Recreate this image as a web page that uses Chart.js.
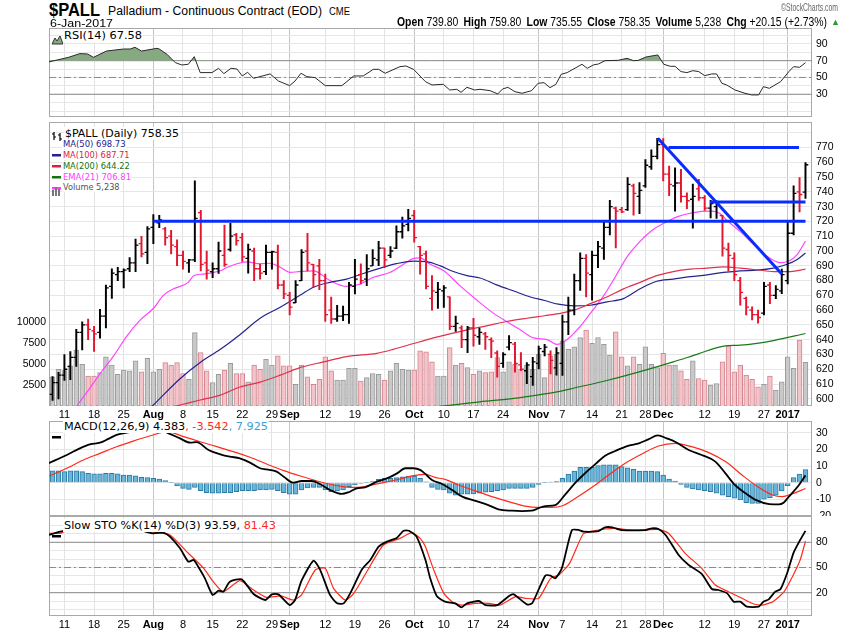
<!DOCTYPE html>
<html>
<head>
<meta charset="utf-8">
<script src="https://cdn.jsdelivr.net/npm/chart.js@4.4.1/dist/chart.umd.min.js"></script>
<style>
  body { margin: 0; background: #fff; }
  #wrap { position: relative; width: 850px; height: 633px; overflow: hidden; background: #fff; }
  canvas { position: absolute; left: 0; }
  .t { position: absolute; white-space: nowrap; transform-origin: 0 50%; }
  .ico { position: absolute; }
</style>
</head>
<body>
<div id="wrap"></div>
<script>
// ---- data (bar index 0 = 7-Jul-2016, 127 = 6-Jan-2017) ----
const tickIdx  = [2, 7, 12, 17, 22, 27, 32, 37, 40, 46, 51, 56, 61, 66, 71, 76, 82, 86, 91, 96, 100, 103, 110, 115, 120, 124];
const tickText = ['11','18','25','Aug','8','15','22','29','Sep','12','19','26','Oct','10','17','24','Nov','7','14','21','28','Dec','12','19','27','2017'];
const monthTicks = ['Aug', 'Sep', 'Oct', 'Nov', 'Dec', '2017'];

const opens = [603,611,616,622,628,645,650,646,645,656, 676,684,686,688,692,705,699,716,719,715,
  710,703,697,692,694,726,692,686,688,697, 701,711,709,695,700,688,686,699,699,677,
  670,665,680,700,691,690,680,660,654,656, 657,676,684,681,690,694,702,697,702,713,
  718,724,703,698,668,672,673,669,649,648, 640,648,642,644,640,631,624,635,637,623,
  619,615,624,632,630,621,624,652,660,680, 695,684,697,702,716,729,728,728,744,737,
  744,757,764,772,752,744,746,737,735,742, 736,729,730,724,701,695,680,668,660,657,
  658,677,670,673,680,712,740,739.8];
const highs = [615,618,630,632,647,652,654,649,660.5,677, 688,689,688,695.5,708,710,716.5,724.7,724.2,716,
  714,707.6,700,694.3,747.4,727.5,700,692,706,717.6, 718.7,712,712,704.7,702,691,704,700,704,680,
  672,680,701,712,691,694.3,684.4,668.9,663.3,662.7, 678.8,694.3,691.4,697.6,701,706.5,702,703,717.1,723,
  728.2,727.5,703.2,699.9,683.3,678.8,676.6,669,656,649.4, 649,654.5,647.9,645,641.2,632.4,631.3,642.8,638.3,631.3,
  624.6,628,635.7,636.8,632.4,634.6,656.7,668.9,684.4,698.8, 697.6,699.9,706.5,719.8,734.2,729.7,729.5,749.7,745.2,746.3,
  761.8,768.5,776.2,776,757.4,756.3,755.2,739.3,745.2,748.5, 737.5,734.2,734,724.2,705.4,698.8,682.2,668.9,662.2,660,
  678.8,678.8,676.6,687.7,719.8,744.1,749.7,759.8];
const lows = [599,600,612.5,613,622,633,640,632,641,648, 668,680,675,686,686,696,691.5,705,715.8,704,
  698,690,687.7,685.5,692.8,686.6,681,682,684.8,689.5, 699.9,704,693,685,680,681,684,687.7,674.4,667.8,
  656.7,665,680,686.6,675.5,673.8,652.3,651,652.3,652.9, 651,671,677.7,676.6,690,690,688.8,695.4,701.6,708.7,
  713.6,706,684.4,674.4,660,661.1,661.8,646.7,645.6,634.6, 631.3,635.7,636.8,633.5,627.9,614.6,621.3,633,618,619.1,
  610.2,609.1,620.2,629,616.9,616,615.8,643.4,656.7,673.3, 668.9,666.7,688.8,694.3,710.9,702.1,726,727.5,724.2,725.3,
  743,755.2,762.3,747.4,737.5,726.9,733.1,728.6,715.4,734.2, 727.5,722.4,722,696.5,686.6,680,663.3,656.7,653.4,651.2,
  656.7,664.4,667.8,671.1,677.7,710.9,726.4,735.55];
const closes = [611,616,620,628,645,650,647,644,656,675, 685,686,687,692,704,698,715,720,721,709,
  704,697,693,694,722,691,687,688,700,691, 710,707,696,701,688,685,699,699.5,677,671,
  662,677,699,692,684,680,657,654,656,657, 677,681,680,688,695,702,694,700,713,717,
  722,709,697,676,673,674,675,649,651,640, 648,643,645,642,639,622,630,638,624,620,
  623,625,634,635,626,631,652,660,680,695, 685,697,703,716,730,727,726.5,745,739,741,
  758,764,772,752,745,746,737,734,737,736, 729,732,732.5,702,697,684,672,662,657,655,
  676,670,674,684,712,739,738.2,758.35];
const volumes = [3500,4400,4250,4800,6700,5000,3600,3600,4000,5900, 4900,3800,4300,4200,5400,4100,5700,4100,4400,5200,
  4900,5200,3900,3200,8800,6400,4200,2800,3800,4300, 5100,3900,3900,2900,4900,4400,5600,4900,6000,4800,
  4800,2600,4900,3500,2600,3200,5900,4200,3100,3100, 4500,4500,3000,3400,3900,3800,3100,4200,5100,4400,
  4300,4300,6600,6500,5300,3600,3600,7000,4900,5100, 4600,3800,4200,4000,4100,5800,4100,5300,5000,4400,
  4900,4400,6200,3400,6000,6200,7800,6800,7100,8200, 9100,7500,8200,7400,6100,8900,5900,4800,5900,5000,
  7100,5000,4600,6300,4900,4900,4200,3200,5400,3300, 3100,2500,2700,5300,7200,4100,4900,3700,3200,2300,
  2600,3600,1900,2900,5900,4500,7900,5238];

const ma50 = [[15.5,590],[17,595.8],[21.5,613.6],[24.9,624.6],[28.3,633.5],[31.6,643.4],[35,654.5],[38.4,662],[41.8,670.2],
  [44,675.5],[46.8,678.8],[49.6,681],[52.4,684.8],[55.3,688.4],[58,691.4],[60.9,693.2],[63.1,692.8],[65.4,689.9],[67.6,686.1],
  [69.9,683.3],[72.1,681.7],[74.9,677.1],[77.8,672.9],[80.6,668.9],[83,666.5],[85.3,664],[88,662.9],[90.7,663.3],[93.5,665.6],
  [96.3,667.8],[99.1,674.4],[101.9,679.5],[104.7,681],[107.6,682.6],[110.4,683.9],[113.2,685.5],[116,686.6],[118.8,687],
  [121.6,688.4],[123.9,691],[125.6,694.3],[127,698.7]];
const ma100 = [[19,593.3],[21.5,595.8],[24.9,599.2],[28.3,602.5],[31.6,608],[35,611.3],[38.4,616],[41.5,620.8],[45.7,625],
  [49.6,628.6],[54.7,630.8],[57.5,633.5],[60.9,637.4],[63.7,640.6],[66.5,643.4],[69.9,646.7],[73.2,649.4],[76.6,652.3],[80,654.5],
  [83,656.2],[85.3,657.6],[88,660],[90.7,664.4],[93.5,668.9],[96.3,674.4],[99.1,678.8],[101.9,683.3],[104.7,686.1],[107.6,687.7],
  [110.4,688.4],[113.2,689.2],[116,688.4],[118.8,687.3],[121.6,686.1],[124.5,686.1],[127,687.7]];
const ma200 = [[62,593.5],[67.3,595.8],[72.1,598],[77.8,600.3],[82.3,602.9],[85.6,605.1],[88,607.3],[93.5,612.4],[99.1,618.4],
  [104.7,625],[108.7,630.1],[113.2,635.7],[116,636.3],[121.6,639.4],[127,644.2]];
const ema21 = [[2.5,586.5],[4.2,595.8],[6.3,607.3],[8,616.9],[10.3,629],[12.5,642.3],[14.8,653.4],[17,661.1],[18.7,670],
  [20.4,674.4],[22.9,678.8],[23.8,683.3],[25.4,684.4],[28.3,686.6],[29.4,688.8],[31.1,691.4],[32.8,692.6],[35,691.4],[36.7,691.7],
  [38.4,689],[40.1,685.5],[41.5,686],[44,686.6],[46.8,680],[49.6,676],[51.9,677.7],[54.1,682.2],[56.9,685.5],[59.2,691],
  [60.9,695],[62,695.4],[63.7,691],[66,686.6],[68.7,676.6],[71.6,666.7],[74.4,657.8],[76.6,652.3],[78.9,646.7],[81.1,641.2],
  [83.4,640.1],[85.1,636.8],[86.8,640.1],[89,649],[90.7,657.8],[93,670],[94.7,681],[97,696.5],[99.1,706.5],[101.2,714.2],
  [103.1,718.7],[105.3,723.1],[108.1,726],[111,726.9],[112.6,725.3],[113.7,720.9],[116,713.1],[118.3,704.3],[120.5,696.5],
  [122.8,692.1],[124.2,693.2],[125.6,697.6],[127,706.8]];

// drawn support / resistance lines: [fromIndex, fromPrice, toIndex, toPrice]
const blueLines = [[17, 720.2, 127, 720.2], [103.9, 770, 125.9, 770], [110.9, 733.1, 127, 733.1], [102.1, 776.2, 123, 684.4]];

const rsi = [[-0.6,68.5],[2.7,74],[4.6,78.4],[5.9,78],[6.9,74],[9.1,81.5],[12,83.9],[13.1,83.9],[13.9,85.9],[15,81.5],
  [17.6,84.7],[18,83.9],[19.3,77.6],[20.7,67.7],[21.8,64.9],[22.9,65.7],[23.9,74.8],[24.9,55.8],[26.9,55.8],[28,60.9],
  [28.9,54.6],[30.1,60.9],[31.1,60.1],[32,51.8],[32.9,56.2],[33.9,49],[36.7,54.2],[38.1,45.8],[40,40.3],[40.9,45.8],
  [41.9,55],[42.9,51],[44.3,49.8],[46,40.3],[48.8,40.3],[50.8,51.8],[52.4,51.8],[54.1,59.7],[55,59.7],[56.1,55],
  [58.6,62.9],[59.6,63.7],[60.9,59.7],[62.9,45],[64,41.1],[65.9,41.9],[67,35.1],[68.2,35.9],[68.9,32.3],[69.9,38.3],
  [71.2,35.1],[72.1,35.9],[73.8,34.3],[75.1,30.4],[75.9,36.3],[76.8,38.3],[78,33.1],[79.2,31.2],[80.8,34.3],[81.9,43.1],
  [82.9,43.8],[83.9,37.9],[84.9,41.9],[85.8,53.8],[86.8,55.8],[89.3,65.7],[90.2,60.9],[91.2,64.9],[92.1,66.1],[93.2,70],
  [95.4,70.4],[96.9,72.8],[98,70],[98.8,70.4],[100.1,74.4],[102.1,76.8],[103.1,65.7],[104.2,63.3],[105,63.3],[106,57],
  [107,55.8],[108,58.1],[109,57],[110,52.2],[111.2,54.2],[112,54.2],[112.9,43.1],[113.7,41.1],[115.1,35.1],[116.8,31.2],
  [117.9,29.2],[119.1,29.2],[119.9,39.1],[120.9,37.1],[122.8,45],[124.2,57],[125,62.9],[126,62.1],[127,67.6]];

const macdLine = [[-0.6,11.8],[2.4,16.7],[4.6,20.7],[6.3,23.1],[8,24.1],[9.4,26.4],[10.8,28.8],[12.5,30.2],[15.3,31.5],
  [17.6,32],[19.3,30.2],[21.5,26.7],[23.2,24.1],[24.3,24.5],[26.3,19.7],[28.3,17.1],[29.9,15.7],[31.6,14.7],[33.3,12.1],
  [35,8.7],[36.1,8],[37.8,6.7],[39,3.6],[40.6,0],[42,1],[43.7,1],[45.1,-0.8],[46.8,-4.4],[48.8,-6.8],[49.9,-5.8],[51.3,-3.4],
  [52.7,-2.8],[54.7,0.6],[56.7,3],[58.1,5.6],[59.5,8.7],[60.9,8.7],[62,7.7],[62.9,5.2],[64,1.6],[65.7,-0.8],[67.4,-4.4],
  [69.1,-8.4],[71.2,-10.8],[73.5,-13.5],[75.2,-16.1],[77.5,-16.9],[79.2,-17.1],[80.8,-16.9],[81.9,-15.5],[83.1,-14.1],
  [84.8,-13.5],[86.5,-7],[88.2,0],[89.9,6],[91.6,11.3],[93.2,16.3],[94.9,19.1],[97.2,22.3],[98.9,23.7],[100.5,26.1],
  [102.1,28.5],[103.6,26.7],[105,24.7],[107.3,19.7],[109.5,16.7],[111.8,12.7],[113.5,5.6],[115.1,-1.4],[116.9,-6.4],
  [118.6,-10.4],[120.9,-12.9],[122.5,-13.1],[123.3,-12.1],[124.2,-8.4],[125.6,-2.8],[127,4.4]];
const macdSignal = [[-0.6,4],[2.4,8.7],[5.2,13.7],[8,17.7],[10.8,21.7],[13.6,25.1],[16.5,28.3],[19.3,30.8],[22.1,27.8],
  [24.9,24.7],[27.7,21.7],[30.5,18.7],[33.3,15.3],[36.1,11.3],[39,7.3],[41.8,4],[44.6,1],[47.4,-1.4],[50.2,-2.8],[51.6,-2.8],
  [53,-2],[55.8,0],[58.6,2.2],[60.9,4.2],[62.9,5],[64.5,3.2],[66.2,2],[68.5,-1.4],[71.2,-4.8],[74.1,-8.4],[76.9,-11.4],
  [79.7,-14.1],[81.9,-14.9],[84.2,-14.9],[85.9,-14.1],[88.2,-9.4],[91,-2.8],[93.8,4.6],[96.6,11.7],[99.4,17.3],[102.2,22.1],
  [105,23.7],[107.8,21.7],[110.7,18.1],[113.5,12.7],[116.3,4.6],[119.1,-2.8],[121.4,-7.4],[123.1,-8.4],[124.7,-6.8],[127,-3.5]];
const macdHist = [7.1,7.1,6.7,7.1,7.1,6.7,5.7,5.3,5.3,5.7, 5.7,5.3,4.6,4.6,4.2,3.2,3.0,2.6,2.2,1.2,
  0.1,-2.0,-3.4,-4.0,-2.8,-4.8,-6.0,-6.4,-6.4,-6.0, -6.0,-5.4,-4.8,-4.8,-4.8,-4.4,-4.4,-4.0,-4.8,-6.0,
  -7.0,-7.0,-4.4,-3.2,-2.8,-2.8,-4.4,-5.4,-5.0,-4.4, -2.4,-1.4,-0.4,0.1,0.6,2.0,2.6,2.6,3.0,3.6,
  4.0,4.0,2.6,0.5,-2.8,-4.0,-4.4,-6.4,-7.5,-7.0, -7.0,-6.8,-6.4,-5.8,-5.4,-4.8,-4.4,-3.4,-3.4,-3.4,
  -3.4,-2.8,-1.0,0.1,0.4,0.6,2.6,5.2,7.0,9.3, 9.3,9.3,10.3,10.7,10.7,10.7,9.7,9.0,8.0,7.0,
  7.0,7.0,6.7,4.6,2.2,1.0,-1.0,-2.8,-3.8,-4.4, -4.8,-5.4,-6.4,-7.5,-8.5,-9.4,-10.4,-12.0,-12.5,-12.5,
  -10.0,-9.0,-7.5,-5.0,-1.8,3.0,5.2,7.9];

const stoK = [[-0.6,88.7],[1.3,92.6],[2.4,93.8],[8,95],[14.8,93.8],[17,90.7],[18.7,91.5],[19.8,86.7],[21.5,72.8],[22.9,56.9],
  [23.8,58.9],[24.9,47],[25.7,37.1],[27,17.3],[28,22.4],[28.8,21.2],[29.9,33.1],[31.9,35.9],[33.9,18.4],[35.9,11.3],[37,18],
  [38.1,18],[40,5.3],[40.9,11.3],[42,34.3],[44,58.1],[45.1,47.8],[46.8,17.3],[48,7.3],[49.1,7.3],[50.2,19.2],[52.2,47.8],
  [53.6,58.9],[55,74.8],[56.4,80.8],[58.1,85.5],[59.2,93.8],[60.1,93.8],[61.4,86.7],[62.9,58.9],[63.7,37.1],[64.8,16.1],
  [66.2,9.3],[67.9,7.3],[69,2.6],[69.9,7.3],[71.9,10.1],[73,5.3],[75,5.3],[77,16.1],[77.8,18],[80,6.1],[80.9,7.3],[83.1,40.3],
  [84,40.3],[84.8,37.1],[85.9,49],[87.6,94.6],[88.8,94.6],[89.6,92.6],[92.1,93.4],[93.2,97.8],[94.4,97.8],[96,94.6],[100,94.6],
  [101.1,96.6],[102.2,95.8],[103.4,88.7],[105.6,64.9],[107.3,53],[109.5,42.3],[111.2,24.4],[112.3,23.2],[113.8,19.2],
  [114.9,9.3],[116,9.3],[117.1,3.4],[119.1,3.4],[119.9,9.3],[120.8,12.1],[121.9,21.2],[122.8,24.4],[123.9,43.1],[125,67.7],
  [126.1,82.7],[127,93.6]];
const stoD = [[-0.6,90.7],[1.3,90.7],[2.4,93.8],[8,95],[14.8,93.8],[17.6,91.5],[19.8,88.7],[22.9,66.9],[25.5,49],[27.1,33.1],
  [28.8,21.2],[31.6,34.3],[33.9,23.2],[36.1,14.5],[38.5,16.1],[40.6,11.3],[42,17.3],[44.3,47],[46,49],[47.4,25.2],[49.4,11.3],
  [50.8,19.2],[53,45],[55.8,76.8],[58.6,84.7],[60.6,91.5],[62,84.7],[62.9,74.8],[64.3,47],[66,19.2],[67.4,9.3],[69,5.3],
  [71.3,7.3],[73.6,7.3],[75.5,5.3],[78.1,15.3],[79.8,13.3],[82,13.3],[84,37.1],[85.4,41.1],[87.2,54.9],[89.5,89.9],[91.1,93.4],
  [93.2,95.8],[94.9,96.6],[97.7,94.6],[100,94.6],[102.2,95.4],[103.9,90.7],[106.7,66.9],[109.5,49],[111.8,29.2],[114,21.2],
  [116.3,13.3],[118.3,6.5],[119.7,5.3],[121.5,9.3],[123.4,21.2],[124.8,39.1],[126.1,58.9],[127,81.4]];

// ---- layout ----
const X_MIN = -0.6, X_MAX = 128.1;
const wrap = document.getElementById('wrap');
const up = closes.map((c, i) => i === 0 || c >= closes[i - 1]);
const pts = a => a.map(([x, y]) => ({ x, y }));
const flat = v => [{ x: X_MIN, y: v }, { x: X_MAX, y: v }];
const TICK_FONT = 'Liberation Sans';

function mkCanvas(top, h) {
  const c = document.createElement('canvas');
  c.width = 850; c.height = h; c.style.top = top + 'px';
  wrap.appendChild(c);
  return c;
}

// keep the plot box exactly where the panel sits (no label overhang padding)
function noPad(ax) { ax.paddingTop = 0; ax.paddingBottom = 0; ax.paddingLeft = 0; ax.paddingRight = 0; }

const frame = {
  id: 'frame',
  beforeDatasetsDraw(chart) {
    const { ctx, chartArea: a } = chart;
    ctx.save();
    ctx.strokeStyle = '#a9a9a9';
    ctx.lineWidth = 1;
    ctx.strokeRect(Math.round(a.left) + 0.5, Math.round(a.top) + 0.5,
      Math.round(a.right - a.left) - 1, Math.round(a.bottom - a.top) - 1);
    ctx.restore();
  }
};

function xScale(showLabels, h) {
  return {
    type: 'linear', min: X_MIN, max: X_MAX, offset: false,
    afterBuildTicks: ax => { ax.ticks = tickIdx.map(v => ({ value: v })); },
    afterFit: ax => { ax.height = h; noPad(ax); },
    grid: {
      offset: false, drawTicks: false,
      color: ctx => monthTicks.includes(tickText[ctx.index]) ? '#c6c6c6' : '#e3e3e3'
    },
    border: { display: false },
    ticks: {
      display: showLabels, autoSkip: false, maxRotation: 0, padding: 2, color: '#000',
      font: ctx => ({ family: TICK_FONT, size: 11, weight: monthTicks.includes(tickText[ctx.index]) ? 'bold' : 'normal' }),
      callback: (v, i) => tickText[i]
    }
  };
}

function yRight(min, max, ticks, label) {
  return {
    position: 'right', min, max,
    afterBuildTicks: ax => { ax.ticks = ticks.map(v => ({ value: v })); },
    afterFit: ax => { ax.width = 38; noPad(ax); },
    grid: { color: '#e6e6e6', drawTicks: false },
    border: { display: false },
    ticks: { autoSkip: false, padding: 4, color: '#000', font: { family: TICK_FONT, size: 10.5 }, callback: v => label(v) }
  };
}

function baseOpts(padLeft) {
  return {
    responsive: false, animation: false, devicePixelRatio: 1, events: [],
    layout: { padding: { left: padLeft, right: 0, top: 0, bottom: 0 } },
    plugins: { legend: { display: false }, tooltip: { enabled: false } },
    elements: { point: { radius: 0 } }
  };
}

function refLine(v, dash) {
  return { type: 'line', data: flat(v), borderColor: '#8a8a8a', borderWidth: 1, borderDash: dash || [], pointRadius: 0, order: 9 };
}

// ---- RSI panel ----
new Chart(mkCanvas(28, 89), {
  type: 'line',
  data: { datasets: [
    { data: pts(rsi), borderColor: '#2a2a2a', borderWidth: 1, tension: 0, pointRadius: 0, order: 1,
      fill: { target: { value: 70 }, above: '#86a982', below: 'rgba(0,0,0,0)' } },
    refLine(70), refLine(30), refLine(50, [7, 3, 2, 3])
  ] },
  options: Object.assign(baseOpts(49), {
    scales: {
      x: xScale(false, 0),
      y: yRight(2.95, 108.9, [10, 20, 30, 40, 50, 60, 70, 80, 90, 100], v => [30, 50, 70, 90].includes(v) ? String(v) : '')
    }
  }),
  plugins: [frame]
});

// ---- price panel ----
const priceSets = [
  { type: 'bar', yAxisID: 'yVol', grouped: false, order: 10, barThickness: 4.8, borderWidth: 1,
    data: volumes.map((v, i) => ({ x: i, y: v })),
    backgroundColor: up.map(u => u ? '#c9c9c9' : '#f2c5ca'),
    borderColor: up.map(u => u ? '#9a9a9a' : '#d5858f') },
  { type: 'line', data: pts(ma200), borderColor: '#177a17', borderWidth: 1.2, cubicInterpolationMode: 'monotone', pointRadius: 0, order: 5 },
  { type: 'line', data: pts(ma100), borderColor: '#e0304a', borderWidth: 1.2, cubicInterpolationMode: 'monotone', pointRadius: 0, order: 5 },
  { type: 'line', data: pts(ma50), borderColor: '#24248f', borderWidth: 1.2, cubicInterpolationMode: 'monotone', pointRadius: 0, order: 5 },
  { type: 'line', data: pts(ema21), borderColor: '#ff44ff', borderWidth: 1.2, cubicInterpolationMode: 'monotone', pointRadius: 0, order: 5 },
  { type: 'bar', yAxisID: 'y', grouped: false, order: 3, barThickness: 1.3, borderWidth: 0,
    data: highs.map((h, i) => ({ x: i, y: [lows[i], h] })),
    backgroundColor: up.map(u => u ? '#000' : '#e3152f') },
  { type: 'line', showLine: false, order: 3, pointStyle: 'line', pointRadius: 1.4, pointBorderWidth: 1.3,
    data: opens.map((o, i) => ({ x: i - 0.24, y: o })),
    pointBorderColor: up.map(u => u ? '#000' : '#e3152f') },
  { type: 'line', showLine: false, order: 3, pointStyle: 'line', pointRadius: 1.4, pointBorderWidth: 1.3,
    data: closes.map((c, i) => ({ x: i + 0.24, y: c })),
    pointBorderColor: up.map(u => u ? '#000' : '#e3152f') }
];
blueLines.forEach(([x0, y0, x1, y1]) => priceSets.push({
  type: 'line', data: [{ x: x0, y: y0 }, { x: x1, y: y1 }], borderColor: '#0a2cff', borderWidth: 3, pointRadius: 0, order: 0
}));

const priceTicks = [];
for (let v = 600; v <= 780; v += 10) priceTicks.push(v);
new Chart(mkCanvas(117, 303), {
  type: 'line',
  data: { datasets: priceSets },
  options: Object.assign(baseOpts(0), {
    scales: {
      x: xScale(true, 14),
      y: yRight(595.15, 787.05, priceTicks, v => v <= 770 ? String(v) : ''),
      yVol: {
        position: 'left', min: 0, max: 34000,
        afterBuildTicks: ax => { ax.ticks = [2500, 5000, 7500, 10000].map(v => ({ value: v })); },
        afterFit: ax => { ax.width = 49; noPad(ax); },
        grid: { display: false, drawTicks: false },
        border: { display: false },
        ticks: { autoSkip: false, padding: 3, color: '#000', font: { family: TICK_FONT, size: 10.5 }, callback: v => String(v) }
      }
    }
  }),
  plugins: [frame]
});

// ---- MACD panel ----
new Chart(mkCanvas(421, 95), {
  type: 'line',
  data: { datasets: [
    { type: 'bar', grouped: false, order: 5, barThickness: 4.8, borderWidth: 1,
      data: macdHist.map((v, i) => ({ x: i, y: v })), backgroundColor: '#69b6da', borderColor: '#2b7aa3' },
    { data: pts(macdSignal), borderColor: '#ff2a1a', borderWidth: 1.2, cubicInterpolationMode: 'monotone', pointRadius: 0, order: 2 },
    { data: pts(macdLine), borderColor: '#000', borderWidth: 1.8, cubicInterpolationMode: 'monotone', pointRadius: 0, order: 1 }
  ] },
  options: Object.assign(baseOpts(49), {
    scales: {
      x: xScale(false, 0),
      y: yRight(-20.1, 37.2, [-20, -10, 0, 10, 20, 30], v => String(v))
    }
  }),
  plugins: [frame]
});

// ---- Slow stochastic panel ----
new Chart(mkCanvas(516, 117), {
  type: 'line',
  data: { datasets: [
    refLine(80), refLine(20), refLine(50, [7, 3, 2, 3]),
    { data: pts(stoD), borderColor: '#ff2a1a', borderWidth: 1.2, tension: 0.2, pointRadius: 0, order: 2 },
    { data: pts(stoK), borderColor: '#000', borderWidth: 1.8, tension: 0.2, pointRadius: 0, order: 1 }
  ] },
  options: Object.assign(baseOpts(49), {
    scales: {
      x: xScale(true, 17),
      y: yRight(-7.75, 111.3, [0, 10, 20, 30, 40, 50, 60, 70, 80, 90, 100], v => [20, 50, 80].includes(v) ? String(v) : '')
    }
  }),
  plugins: [frame]
});

// ---- texts ----
function place(html, x, yc, w, font, color, bg) {
  const el = document.createElement('div');
  el.className = 't';
  el.innerHTML = html;
  el.style.font = font;
  el.style.color = color || '#000';
  el.style.left = x + 'px';
  if (bg) { el.style.background = '#fff'; el.style.padding = '0 1px'; }
  wrap.appendChild(el);
  const r = el.getBoundingClientRect();
  el.style.top = (yc - r.height / 2) + 'px';
  if (w) el.style.transform = 'scaleX(' + (w / r.width) + ')';
  return el;
}
function icon(svg, x, y, w, h) {
  const d = document.createElement('div');
  d.className = 'ico';
  d.style.left = x + 'px'; d.style.top = y + 'px';
  d.innerHTML = '<svg width="' + w + '" height="' + h + '" viewBox="0 0 ' + w + ' ' + h + '">' + svg + '</svg>';
  wrap.appendChild(d);
}
function swatch(x, yc, color) {
  icon('<rect x="0" y="0" width="9" height="2.5" fill="' + color + '"/>', x, yc - 1.5, 9, 3);
}

const LS = '"Liberation Sans", Arial, sans-serif';
const DV = '"DejaVu Sans", Verdana, sans-serif';

// header
place('$PALL', 49, 10, 51, 'bold 18px ' + LS);
place('Palladium - Continuous Contract (EOD)', 108, 11, 214, '12px ' + LS);
place('CME', 329, 11, 21, '10px ' + LS);
place('6-Jan-2017', 50, 22.5, 63, '11px ' + LS);
place('<b>Open</b> 739.80&ensp;<b>High</b> 759.80&ensp;<b>Low</b> 735.55&ensp;<b>Close</b> 758.35&ensp;<b>Volume</b> 5,238&ensp;<b>Chg</b> +20.15 (+2.73%)',
  397, 22, 430, '12px ' + LS);
place('&#9650;', 831, 22, 9, '9px ' + LS, '#2b9a2b');
place('&copy;StockCharts.com', 781, 7, 57, '10px ' + LS, '#666');

// RSI legend
place('RSI(14) 67.58', 63, 35.5, 80, '11px ' + DV, '#000', true);
icon('<polygon points="0,9 3,3 5,6 8,1 11,9" fill="#86a982" stroke="#333" stroke-width="1"/>', 52, 31, 11, 10);

// price legend
place('$PALL (Daily) 758.35', 64, 133.3, 116, '11px ' + DV, '#000', true);
icon('<path d="M2 1 V9 M0 3 H2 M2 6 H4 M8 2 V10 M6 4 H8 M8 8 H10" stroke="#000" stroke-width="1.2" fill="none"/>', 52, 128, 11, 11);
const maLegend = [
  ['MA(50) 698.73', 144.3, 64.5, '#24248f'],
  ['MA(100) 687.71', 155.3, 68.5, '#d8233c'],
  ['MA(200) 644.22', 166.3, 68.8, '#137313'],
  ['EMA(21) 706.81', 177, 70, '#ff3cff'],
  ['Volume 5,238', 187.3, 58.5, '#555']
];
maLegend.forEach(([txt, y, w, col], k) => {
  place(txt, 62, y, w, '9px ' + DV, col, true);
  if (k < 4) swatch(52, y, col);
});
icon('<rect x="0" y="4" width="2" height="6" fill="#777"/><rect x="3" y="1" width="2" height="9" fill="#777"/><rect x="6" y="3" width="2" height="7" fill="#777"/>',
  52, 182, 9, 10);

// MACD legend
place('MACD(12,26,9) 4.383<span style="color:#ff2a1a">, -3.542</span><span style="color:#3ea0d8">, 7.925</span>',
  63, 426.7, 206, '11px ' + DV, '#000', true);
swatch(52, 426.7, '#000');

// STO legend
place('Slow STO %K(14) %D(3) 93.59,<span style="color:#ff2a1a"> 81.43</span>', 63, 525.7, 214, '11px ' + DV, '#000', true);
swatch(52, 525.7, '#000');
</script>
</body>
</html>
